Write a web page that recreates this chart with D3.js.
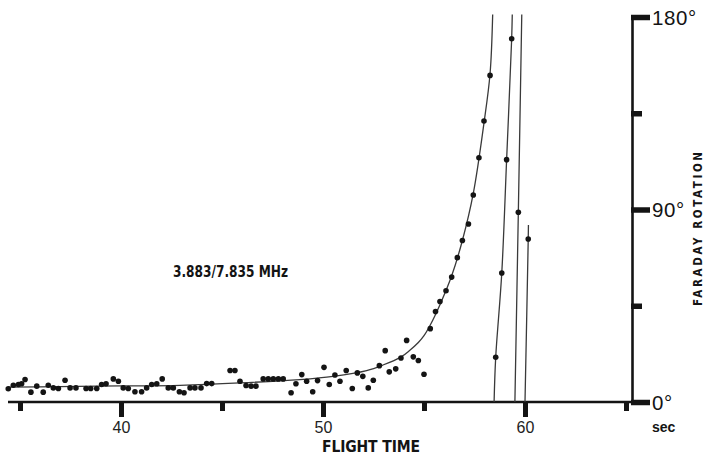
<!DOCTYPE html>
<html>
<head>
<meta charset="utf-8">
<script src="https://cdn.jsdelivr.net/npm/d3@7"></script>
<style>
  body { margin: 0; background: #fff; }
  svg { display: block; }
</style>
</head>
<body>
<svg id="chart" width="704" height="455"></svg>
<script>
// Measured Faraday rotation points: flight time (s) and rotation (deg)
const pointTime = [
  34.42, 34.67, 34.92, 35.08, 35.25, 35.54, 35.83, 36.15, 36.40, 36.65,
  36.90, 37.23, 37.48, 37.77, 38.27, 38.50, 38.80, 39.04, 39.26, 39.62,
  39.87, 40.11, 40.36, 40.69, 41.02, 41.27, 41.52, 41.77, 42.04, 42.34,
  42.59, 42.89, 43.12, 43.42, 43.66, 43.96, 44.24, 44.49, 45.40, 45.64,
  45.89, 46.19, 46.44, 46.68, 47.04, 47.29, 47.54, 47.79, 48.03, 48.42,
  48.66, 48.95, 49.19, 49.49, 49.73, 50.05, 50.31, 50.59, 50.84, 51.15,
  51.45, 51.70, 51.97, 52.24, 52.49, 52.79, 53.08, 53.28, 53.60, 53.86,
  54.14, 54.47, 54.72, 55.00, 55.31, 55.57, 55.79, 56.09, 56.37, 56.65,
  56.90, 57.20, 57.44, 57.72, 57.97, 58.27,
  58.55, 58.85, 59.09, 59.34,
  59.67,
  60.16
];
const pointRotation = [
  6.2, 7.8, 8.2, 8.5, 10.5, 4.6, 7.4, 4.6, 7.8, 6.6,
  6.3, 10.2, 6.6, 6.6, 6.3, 6.3, 6.3, 8.2, 8.5, 10.8,
  9.7, 6.6, 6.3, 4.8, 4.8, 6.6, 8.2, 8.5, 10.8, 6.6,
  6.6, 4.8, 4.3, 6.6, 6.6, 6.6, 8.6, 8.6, 14.7, 14.7,
  9.7, 7.7, 7.4, 7.4, 10.8, 10.8, 10.8, 10.8, 10.8, 4.3,
  8.5, 12.8, 9.7, 4.8, 10.0, 16.2, 8.2, 12.6, 9.7, 14.7,
  6.3, 13.6, 12.0, 6.6, 10.2, 17.0, 24.0, 14.1, 15.5, 20.6,
  28.8, 21.1, 19.4, 13.0, 34.3, 42.3, 47.0, 52.0, 58.4, 67.5,
  75.5, 83.2, 96.8, 114.2, 131.4, 152.7,
  20.9, 60.3, 113.3, 169.8,
  88.7,
  76.2
];

// Fitted rotation curve up to the first 180° wrap
const fitTime     = [34.41, 36.98, 40.00, 42.92, 45.89, 48.86, 50.50, 52.16, 52.97, 53.85, 54.30, 54.72, 55.00, 55.31, 55.79, 56.37, 56.90, 57.44, 57.97, 58.27, 58.40];
const fitRotation = [7.0,   7.2,   7.5,   7.8,   8.9,   10.5,  12.0,  14.7,  17.3,  21.0,  24.2,  27.8,  31.0,  36.0,  45.5,  59.0,  75.5,  97.5,  130.5, 153.5, 181.2];

// Branches after each wrap through 180°
const wrap1Time     = [58.47, 58.55, 58.85, 59.09, 59.34, 59.37];
const wrap1Rotation = [0,     20.9,  60.3,  113.3, 169.8, 181.2];
const wrap2Time     = [59.50, 59.67, 59.84];
const wrap2Rotation = [0,     88.7,  181.2];
const wrap3Time     = [60.00, 60.16, 60.17];
const wrap3Rotation = [0,     76.2,  82.8];

// Axis ticks and labels
const xTicks = [35, 40, 45, 50, 55, 60, 65];
const xTickLabels = ["", "40", "", "50", "", "60", ""];
const yTicks = [0, 45, 90, 135, 180];
const yTickLabels = ["0°", "", "90°", "", "180°"];

const ink = "#141414";
const svg = d3.select("#chart");
svg.append("rect").attr("width", 704).attr("height", 455).attr("fill", "#fff");

const x = d3.scaleLinear().domain([40, 60]).range([121, 525]);
const y = d3.scaleLinear().domain([0, 180]).range([402, 17]);
const axisX = 632;

// Bottom axis: heavy baseline with block ticks hanging below it
const gx = svg.append("g").attr("transform", `translate(0,${y(0)})`);
gx.call(d3.axisBottom(x).tickValues(xTicks)
  .tickFormat((d, i) => xTickLabels[i]).tickSizeOuter(0));
gx.select(".domain").remove();
gx.selectAll(".tick line")
  .attr("stroke", ink).attr("stroke-width", 5)
  .attr("y1", 0)
  .attr("y2", (d, i) => xTickLabels[i] ? 15 : 9);
gx.selectAll(".tick text")
  .attr("y", 31).attr("dy", 0)
  .attr("fill", "#222")
  .style("font-family", "'Liberation Sans', Arial, sans-serif")
  .style("font-size", "16px");
gx.append("line")
  .attr("x1", 8).attr("x2", axisX)
  .attr("y1", 0).attr("y2", 0)
  .attr("stroke", ink).attr("stroke-width", 2.6);

// Right axis: Faraday rotation in degrees
const gy = svg.append("g").attr("transform", `translate(${axisX},0)`);
gy.call(d3.axisRight(y).tickValues(yTicks)
  .tickFormat((d, i) => yTickLabels[i]).tickSizeOuter(0));
gy.select(".domain")
  .attr("stroke", ink).attr("stroke-width", 2.6);
gy.selectAll(".tick line")
  .attr("stroke", ink).attr("stroke-width", 5.5)
  .attr("x1", -1)
  .attr("x2", (d, i) => yTickLabels[i] ? 18 : 10);
gy.selectAll(".tick text")
  .attr("x", 20).attr("dy", "0.36em")
  .attr("fill", ink)
  .style("font-family", "'Liberation Sans', Arial, sans-serif")
  .style("font-size", "20.5px")
  .style("letter-spacing", "0.6px");

// Fitted curve and wrapped branches
const line = d3.line()
  .x(d => x(d[0])).y(d => y(d[1]))
  .curve(d3.curveCatmullRom.alpha(0.5));
const series = [
  [fitTime, fitRotation],
  [wrap1Time, wrap1Rotation],
  [wrap2Time, wrap2Rotation],
  [wrap3Time, wrap3Rotation]
];
svg.append("g").selectAll("path")
  .data(series.map(([t, r]) => t.map((v, i) => [v, r[i]])))
  .join("path")
  .attr("d", line)
  .attr("fill", "none")
  .attr("stroke", "#3a3a3a")
  .attr("stroke-width", 1.3);

// Measured points
svg.append("g").selectAll("circle")
  .data(pointTime.map((t, i) => [t, pointRotation[i]]))
  .join("circle")
  .attr("cx", d => x(d[0]))
  .attr("cy", d => y(d[1]))
  .attr("r", 2.8)
  .attr("fill", ink);

// Labels
const condensed = "'DejaVu Sans Condensed', 'DejaVu Sans', sans-serif";
svg.append("text")
  .attr("x", 173).attr("y", 277)
  .attr("textLength", 115).attr("lengthAdjust", "spacingAndGlyphs")
  .attr("fill", ink)
  .style("font-family", condensed).style("font-weight", "bold")
  .style("font-size", "15.5px")
  .text("3.883/7.835 MHz");

svg.append("text")
  .attr("x", 322).attr("y", 452)
  .attr("textLength", 98).attr("lengthAdjust", "spacing")
  .attr("fill", ink)
  .style("font-family", condensed).style("font-weight", "bold")
  .style("font-size", "15.5px")
  .text("FLIGHT TIME");

svg.append("text")
  .attr("x", 652).attr("y", 432)
  .attr("fill", ink)
  .style("font-family", "'Liberation Sans', Arial, sans-serif").style("font-weight", "bold")
  .style("font-size", "14px")
  .text("sec");

svg.append("text")
  .attr("transform", "translate(702,229) rotate(-90)")
  .attr("text-anchor", "middle")
  .attr("textLength", 154).attr("lengthAdjust", "spacing")
  .attr("fill", ink)
  .style("font-family", condensed).style("font-weight", "bold")
  .style("font-size", "11.5px")
  .text("FARADAY ROTATION");
</script>
</body>
</html>
